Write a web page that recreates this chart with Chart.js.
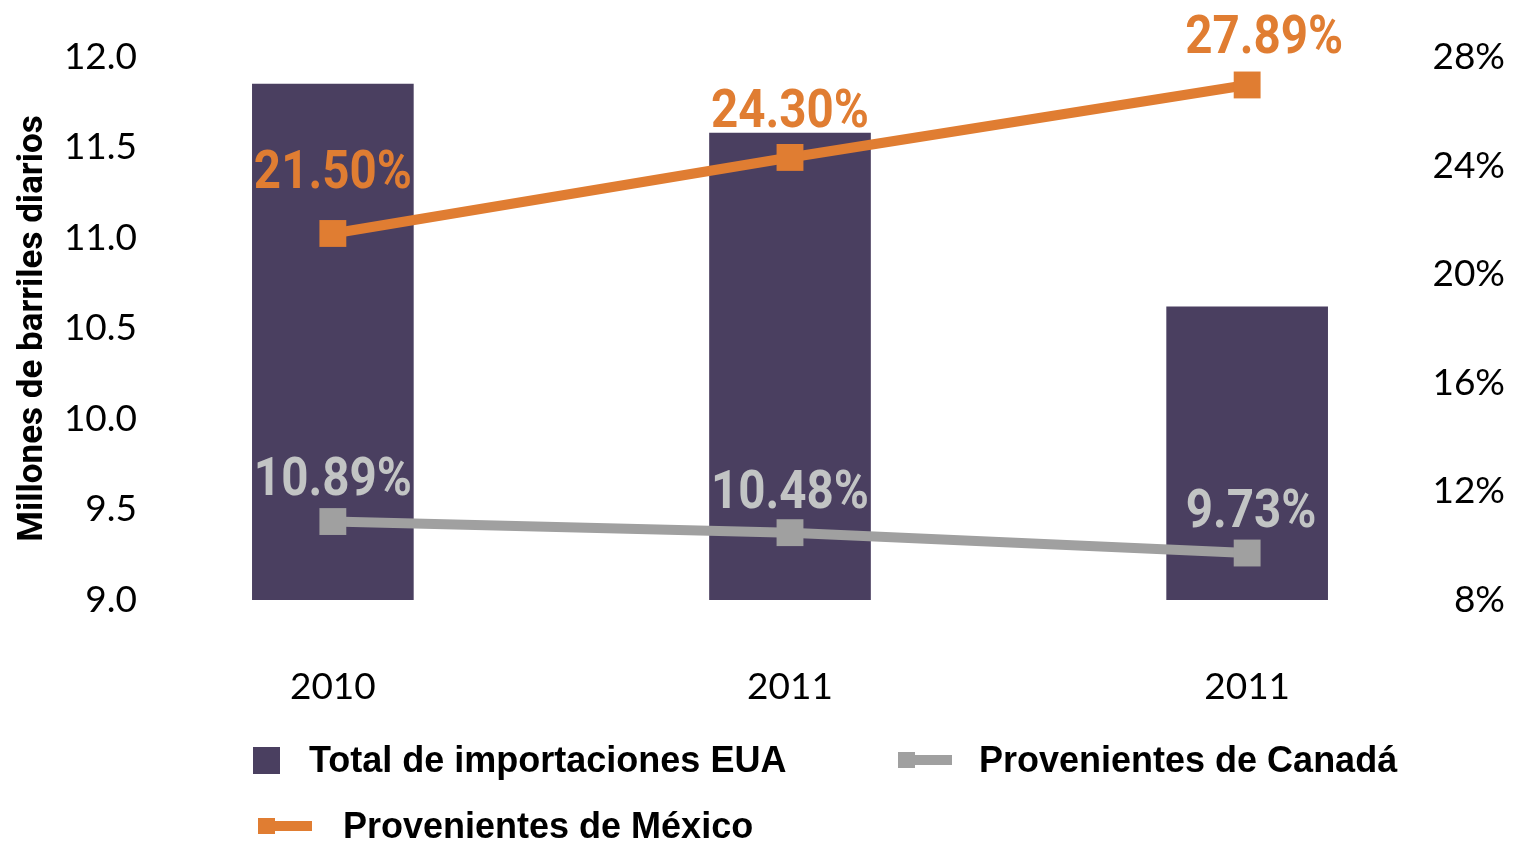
<!DOCTYPE html>
<html lang="es">
<head>
<meta charset="utf-8">
<title>Importaciones de petróleo de EUA</title>
<script src="https://cdn.jsdelivr.net/npm/chart.js@4.4.1/dist/chart.umd.min.js"></script>
<style>
  html, body { margin: 0; padding: 0; background: #fff; }
  #wrap { position: relative; width: 1513px; height: 842px; overflow: hidden; }
  #chart { position: absolute; left: 0; top: 0; }
  .legend-item {
    position: absolute;
    display: flex;
    align-items: center;
    height: 0;
    font: bold 36px 'Liberation Sans', Arial, sans-serif;
    color: #000;
    white-space: nowrap;
  }
  .swatch-box { width: 27px; height: 27px; flex: none; }
  .swatch-line { position: relative; width: 54px; height: 16px; flex: none; }
  .swatch-line .stroke { position: absolute; left: 0; top: 3px; width: 54px; height: 10px; }
  .swatch-line .dot { position: absolute; left: 0; top: 0; width: 17px; height: 16px; }
</style>
</head>
<body>
<div id="wrap">
  <canvas id="chart" width="1513" height="842"></canvas>
  <div id="legend"></div>
</div>
<script>
// Data
const years = ['2010', '2011', '2011'];
const totalImports = [11.85, 11.58, 10.62];     // millones de barriles diarios
const canadaShare = [10.89, 10.48, 9.73];       // % del total
const mexicoShare = [21.50, 24.30, 26.97];      // last point sits below its 27.89% label in the source
const canadaLabels = ['10.89%', '10.48%', '9.73%'];
const mexicoLabels = ['21.50%', '24.30%', '27.89%'];
const volumeTicks = [9.0, 9.5, 10.0, 10.5, 11.0, 11.5, 12.0];
const shareTicks = [8, 12, 16, 20, 24, 28];

const PURPLE = '#4a3f60';
const ORANGE = '#e07d32';
const GREY = '#a0a0a0';
const GREY_TEXT = '#c2c4c4';
const FONT = "Lato, 'DejaVu Sans Condensed', sans-serif";
const BOLD_FONT = "Roboto, 'DejaVu Sans Condensed', sans-serif";

// where each legend entry sits (row 1: two items, row 2: one)
const legendSlots = [
  { left: 253, top: 760, gap: 29 },
  { left: 898, top: 760, gap: 27 },
  { left: 258, top: 826, gap: 31 }
];

// Value labels above the line points (squeezed to look condensed)
const pointLabels = {
  id: 'pointLabels',
  afterDatasetsDraw(chart) {
    const ctx = chart.ctx;
    chart.data.datasets.forEach((ds, i) => {
      if (!ds.valueLabels) return;
      const meta = chart.getDatasetMeta(i);
      meta.data.forEach((pt, j) => {
        ctx.save();
        ctx.font = 'bold 54px ' + BOLD_FONT;
        ctx.fillStyle = ds.labelColor;
        ctx.textAlign = 'center';
        ctx.textBaseline = 'alphabetic';
        ctx.translate(pt.x + ds.labelShift[j], pt.y - ds.labelLift[j] + 20);
        ctx.scale(0.88, 1);
        ctx.fillText(ds.valueLabels[j], 0, 0);
        ctx.restore();
      });
    });
  }
};

// HTML legend built from the datasets
const htmlLegend = {
  id: 'htmlLegend',
  afterUpdate(chart) {
    const box = document.getElementById('legend');
    box.innerHTML = '';
    chart.data.datasets.forEach((ds, i) => {
      const slot = legendSlots[i];
      const item = document.createElement('div');
      item.className = 'legend-item';
      item.style.left = slot.left + 'px';
      item.style.top = slot.top + 'px';
      let swatch;
      if (ds.type === 'line') {
        swatch = document.createElement('span');
        swatch.className = 'swatch-line';
        swatch.innerHTML = '<span class="stroke"></span><span class="dot"></span>';
        swatch.querySelector('.stroke').style.background = ds.borderColor;
        swatch.querySelector('.dot').style.background = ds.borderColor;
      } else {
        swatch = document.createElement('span');
        swatch.className = 'swatch-box';
        swatch.style.background = ds.backgroundColor;
      }
      const text = document.createElement('span');
      text.textContent = ds.label;
      text.style.marginLeft = slot.gap + 'px';
      item.appendChild(swatch);
      item.appendChild(text);
      box.appendChild(item);
    });
  }
};

const xPos = years.map((_, i) => i);

new Chart(document.getElementById('chart'), {
  type: 'bar',
  data: {
    datasets: [
      {
        type: 'bar',
        label: 'Total de importaciones EUA',
        data: totalImports.map((v, i) => ({ x: xPos[i], y: v })),
        backgroundColor: PURPLE,
        barThickness: 161,
        yAxisID: 'y',
        order: 2
      },
      {
        type: 'line',
        label: 'Provenientes de Canadá',
        data: canadaShare.map((v, i) => ({ x: xPos[i], y: v })),
        borderColor: GREY,
        backgroundColor: GREY,
        borderWidth: 10,
        pointStyle: 'rect',
        pointRadius: 19,
        pointBorderWidth: 0,
        pointBackgroundColor: GREY,
        tension: 0,
        yAxisID: 'y1',
        order: 1,
        valueLabels: canadaLabels,
        labelColor: GREY_TEXT,
        labelLift: [47, 45, 46],
        labelShift: [0, 0, 4]
      },
      {
        type: 'line',
        label: 'Provenientes de México',
        data: mexicoShare.map((v, i) => ({ x: xPos[i], y: v })),
        borderColor: ORANGE,
        backgroundColor: ORANGE,
        borderWidth: 10,
        pointStyle: 'rect',
        pointRadius: 19,
        pointBorderWidth: 0,
        pointBackgroundColor: ORANGE,
        tension: 0,
        yAxisID: 'y1',
        order: 0,
        valueLabels: mexicoLabels,
        labelColor: ORANGE,
        labelLift: [65, 50, 52],
        labelShift: [0, 0, 17]
      }
    ]
  },
  options: {
    responsive: false,
    animation: false,
    layout: { padding: { top: 57, right: 8, bottom: 134, left: 0 } },
    plugins: {
      legend: { display: false },
      tooltip: { enabled: false }
    },
    scales: {
      x: {
        type: 'linear',
        min: -0.4,
        max: 2.4,
        offset: false,
        grid: { display: false, drawTicks: false },
        border: { display: false },
        afterBuildTicks: s => { s.ticks = xPos.map(v => ({ value: v })); },
        afterFit: s => { s.height = 108; },
        ticks: {
          padding: 65,
          color: '#000',
          font: { family: FONT, size: 37 },
          callback: v => years[v]
        }
      },
      y: {
        position: 'left',
        min: volumeTicks[0],
        max: volumeTicks[volumeTicks.length - 1],
        grid: { display: false, drawTicks: false },
        border: { display: false },
        afterBuildTicks: s => { s.ticks = volumeTicks.map(v => ({ value: v })); },
        afterFit: s => { s.width = 150; },
        ticks: {
          padding: 13,
          color: '#000',
          font: { family: FONT, size: 37 },
          callback: v => v.toFixed(1)
        },
        title: {
          display: true,
          text: 'Millones de barriles diarios',
          color: '#000',
          font: { family: BOLD_FONT, size: 35, weight: 'bold', lineHeight: 1.2 },
          padding: { top: 12, bottom: 0 }
        }
      },
      y1: {
        position: 'right',
        min: shareTicks[0],
        max: shareTicks[shareTicks.length - 1],
        grid: { display: false, drawTicks: false },
        border: { display: false },
        afterBuildTicks: s => { s.ticks = shareTicks.map(v => ({ value: v })); },
        afterFit: s => { s.width = 75; },
        ticks: {
          crossAlign: 'far',
          color: '#000',
          font: { family: FONT, size: 37 },
          callback: v => v + '%'
        }
      }
    }
  },
  plugins: [pointLabels, htmlLegend]
});
</script>
</body>
</html>
